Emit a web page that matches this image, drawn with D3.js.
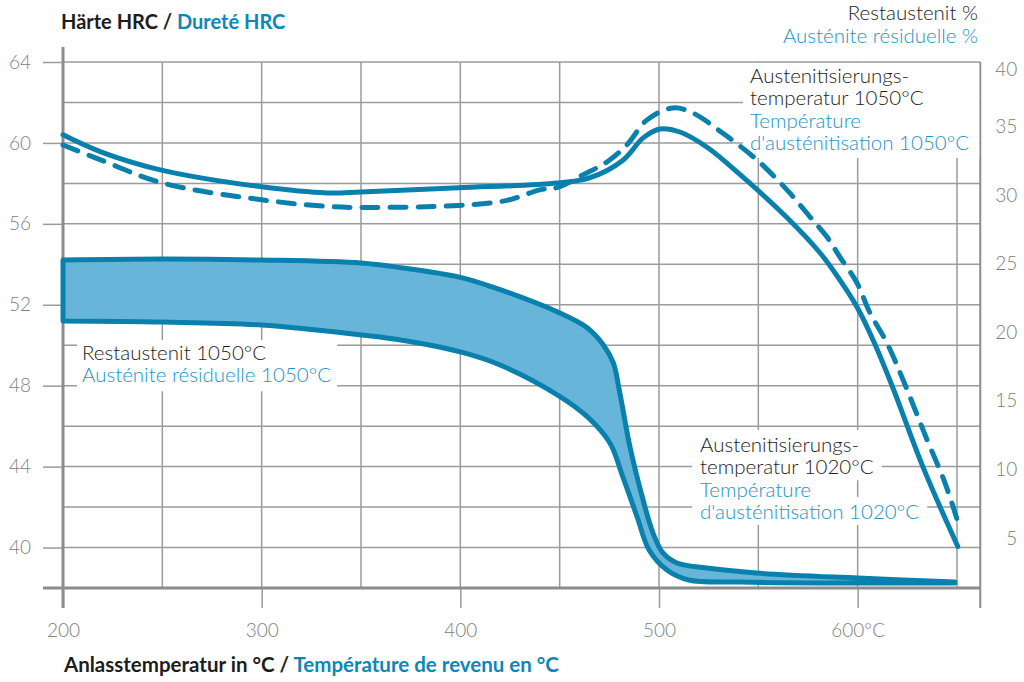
<!DOCTYPE html>
<meta charset="utf-8">
<style>
body{margin:0;background:#fff;}
svg{font-family:Lato,"Open Sans",sans-serif;}
.grid line{stroke:#9b9b9b;stroke-width:1.5;}
.axis path{display:none;}
.axis line{stroke:#9b9b9b;stroke-width:1.5;}
.axis text{fill:#808080;font-size:19px;font-weight:300;font-family:Lato,"Open Sans",sans-serif;}
.frame{stroke:#8c8c8c;fill:none;}
.dark{fill:#1d1d1b;}
.blue{fill:#1e93c6;}
.note{font-size:20.5px;font-weight:300;}
.title{font-size:20px;font-weight:700;}
.curve{fill:none;stroke:#0a80ad;stroke-width:5;stroke-linecap:round;stroke-linejoin:round;}
.band{fill:#67b6d9;stroke:#0a80ad;stroke-width:5;stroke-linejoin:round;}
</style>
<svg class="chart" width="1024" height="682"></svg>
<script src="https://cdn.jsdelivr.net/npm/d3@7"></script>
<script>
// Anlasstemperatur (°C) / Härte HRC
var hrc1020 = [[200,60.4],[219,59.56],[249,58.67],[300,57.83],[333,57.53],[350,57.58],
	[399,57.78],[449,58.02],[465,58.27],[482,59.16],[492,60.25],[500.5,60.69],[510.5,60.54],
	[524,59.8],[541,58.42],[564,56.35],[581,54.57],[591,53.23],[599.6,51.9],
	[607.7,50.27],[617.7,47.9],[632.8,44.0],[650.4,40.05]];

var hrc1050 = [[200,59.9],[219,59.16],[250,58.02],[300,57.19],[333,56.86],[350,56.81],
	[399,56.91],[423.5,57.16],[440,57.68],[449,57.8],[461.7,58.42],[473.8,59.06],[483.8,59.9],
	[494,61.14],[507,61.73],[517,61.48],[532,60.49],[549.3,59.16],[564.4,57.68],[576,56.35],
	[584.5,55.36],[591,54.37],[599.6,53.09],[606.2,51.6],[614.7,50.12],[622.8,48.3],
	[634.9,45.33],[643.9,43.21],[650.4,41.28]];

// Restaustenit 1050°C (%) – Ober- und Untergrenze des Bandes
var raUpper = [[200,25.26],[250,25.33],[300,25.26],[350,25.04],[370,24.7],[400,24.0],[416,23.3],
	[449,21.47],[464,20.31],[472,19.07],[477,17.76],[480,15.79],[485.4,11.63],[492,7.77],[497,5.36],
	[502,3.91],[509,3.18],[524,2.81],[549,2.45],[600,2.08],[649,1.79]];

var raLower = [[200,20.82],[250,20.74],[300,20.52],[350,19.8],[370,19.43],[400,18.56],[420,17.61],
	[449,15.42],[464,13.83],[475.3,11.93],[481.8,9.45],[489,6.53],[495,4.13],[504,2.67],
	[515,1.94],[541,1.79],[600,1.72],[649,1.72]];

var tempTicks = [200,300,400,500,600];
var tempLabels = ["200","300","400","500","600°C"];
var hrcTicks = [40,44,48,52,56,60,64];
var raTicks = [5,10,15,20,25,30,35,40];

var svg = d3.select(".chart");

var x = d3.scaleLinear().domain([200,650]).range([63,957]);
var yL = d3.scaleLinear().domain([38,64]).range([588,62]);
var yR = d3.scaleLinear().domain([0,40]).range([606.6,57.8]);
var xEnd = x(661.7);

// grid
var grid = svg.append("g").attr("class","grid");
grid.selectAll(".gx")
		.data(d3.range(250,651,50))
	.enter().append("line")
		.attr("x1",function(d){ return x(d); })
		.attr("x2",function(d){ return x(d); })
		.attr("y1",yL(64))
		.attr("y2",yL(38));
grid.selectAll(".gy")
		.data(d3.range(40,65,2))
	.enter().append("line")
		.attr("x1",x(200))
		.attr("x2",xEnd)
		.attr("y1",function(d){ return yL(d); })
		.attr("y2",function(d){ return yL(d); });

// axes
svg.append("g")
	.attr("class","axis")
	.attr("transform","translate("+x(200)+",0)")
	.call(d3.axisLeft(yL).tickValues(hrcTicks).tickSize(20).tickPadding(12));

svg.append("g")
	.attr("class","axis")
	.attr("transform","translate(0,"+yL(38)+")")
	.call(d3.axisBottom(x).tickValues(tempTicks).tickSize(20).tickPadding(16)
		.tickFormat(function(d,i){ return tempLabels[i]; }));

svg.append("g")
	.attr("class","axis")
	.attr("transform","translate("+xEnd+",0)")
	.call(d3.axisRight(yR).tickValues(raTicks).tickSize(0))
	.selectAll("text")
		.attr("x",37)
		.attr("text-anchor","end")
		// the top label sits a bit lower, clear of the header
		.attr("y",function(d){ return d === 40 ? 12 : 0; });

// frame lines
svg.append("line").attr("class","frame")
	.attr("x1",x(200)).attr("x2",x(200)).attr("y1",47).attr("y2",608)
	.attr("stroke-width",3);
svg.append("line").attr("class","frame")
	.attr("x1",43).attr("x2",xEnd).attr("y1",yL(38)).attr("y2",yL(38))
	.attr("stroke-width",3);
svg.append("line").attr("class","frame")
	.attr("x1",xEnd).attr("x2",xEnd).attr("y1",yL(64)).attr("y2",608)
	.attr("stroke-width",2);

// label masks + labels
var maskLayer = svg.append("g");
var noteLayer = svg.append("g");
var curveLayer = svg.append("g");

function note(px, py, lines, mode){
	var g = noteLayer.append("g");
	var boxes = [];
	lines.forEach(function(l,i){
		var t = g.append("text")
			.attr("class","note "+l[1])
			.attr("x",px)
			.attr("y",py+i*22.3)
			.text(l[0]);
		boxes.push(t.node().getBBox());
	});
	if(mode === "line"){
		boxes.forEach(function(b){
			maskLayer.append("rect").attr("fill","#fff")
				.attr("x",b.x-8).attr("y",b.y-2)
				.attr("width",b.width+16).attr("height",b.height+4);
		});
	} else {
		var x0 = d3.min(boxes,function(b){ return b.x; }) - mode.l,
			x1 = mode.r ? mode.r : d3.max(boxes,function(b){ return b.x+b.width; }) + 6,
			y0 = mode.t ? mode.t : boxes[0].y - 4,
			y1 = boxes[boxes.length-1].y + boxes[boxes.length-1].height + mode.b;
		maskLayer.append("rect").attr("fill","#fff")
			.attr("x",x0).attr("y",y0).attr("width",x1-x0).attr("height",y1-y0);
	}
}

note(750, 83, [["Austenitisierungs-","dark"],["temperatur 1050°C","dark"],
	["Température","blue"],["d'austénitisation 1050°C","blue"]], {l:7, r:xEnd-1, t:yL(64)+1, b:4});
note(700, 452, [["Austenitisierungs-","dark"],["temperatur 1020°C","dark"],
	["Température","blue"],["d'austénitisation 1020°C","blue"]], "line");
note(82, 360, [["Restaustenit 1050°C","dark"],["Austénite résiduelle 1050°C","blue"]], {l:5, t:340, b:5});

// curves
var line = d3.line()
	.x(function(d){ return x(d[0]); })
	.y(function(d){ return yL(d[1]); })
	.curve(d3.curveCatmullRom.alpha(0.5));

var bandLine = d3.line()
	.x(function(d){ return x(d[0]); })
	.y(function(d){ return yR(d[1]); })
	.curve(d3.curveCatmullRom.alpha(0.5));

var bandPath = bandLine(raUpper) + "L" + bandLine(raLower.slice().reverse()).slice(1) + "Z";
curveLayer.append("path")
	.attr("class","band")
	.attr("d",bandPath);

curveLayer.append("path")
	.attr("class","curve")
	.attr("d",line(hrc1050))
	.attr("stroke-dasharray","16,12")
	.attr("stroke-width",5.5);

curveLayer.append("path")
	.attr("class","curve")
	.attr("d",line(hrc1020));

// titles
var t1 = svg.append("text").attr("class","title").attr("x",61).attr("y",29);
t1.append("tspan").attr("class","dark").text("Härte HRC / ");
t1.append("tspan").attr("class","blue").attr("style","fill:#0f86ba").text("Dureté HRC");

var t2 = svg.append("text").attr("class","title").attr("x",64).attr("y",672)
	.attr("style","font-size:20.5px");
t2.append("tspan").attr("class","dark").text("Anlasstemperatur in °C / ");
t2.append("tspan").attr("class","blue").attr("style","fill:#0f86ba").text("Température de revenu en °C");

svg.append("text").attr("class","note dark").attr("x",978).attr("y",20)
	.attr("text-anchor","end").text("Restaustenit %");
svg.append("text").attr("class","note blue").attr("x",978).attr("y",43)
	.attr("text-anchor","end").text("Austénite résiduelle %");
</script>
